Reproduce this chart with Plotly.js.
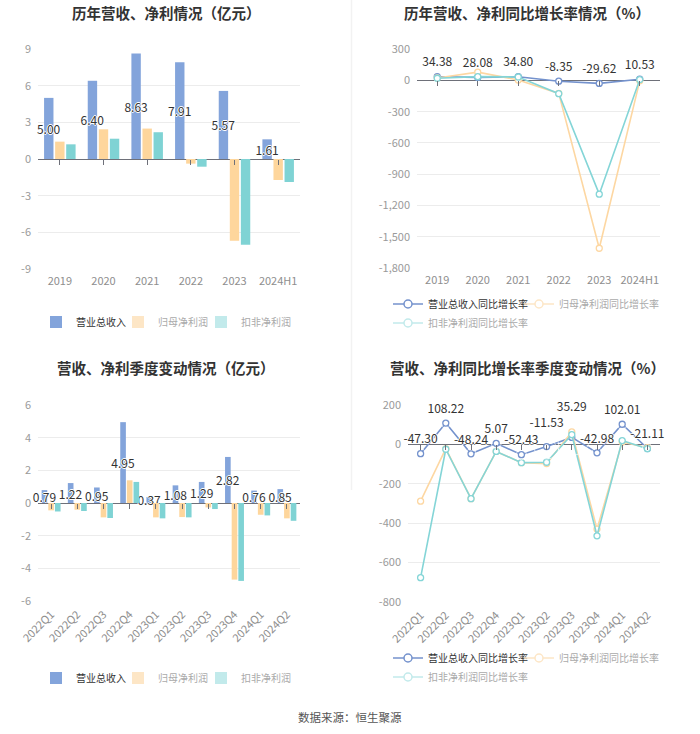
<!DOCTYPE html>
<html><head><meta charset="utf-8">
<script src="https://cdn.plot.ly/plotly-3.0.1.min.js"></script>
<style>html,body{margin:0;padding:0;background:#fff}#chart{width:700px;height:734px}</style>
</head><body><div id="chart"></div>
<script>
// ---------- data ----------
const years = ['2019','2020','2021','2022','2023','2024H1'];
const yearRevenue = [5.00, 6.40, 8.63, 7.91, 5.57, 1.61];
const yearNetProfit = [1.42, 2.43, 2.49, -0.38, -6.69, -1.72];
const yearDeductedProfit = [1.20, 1.66, 2.19, -0.63, -7.02, -1.88];

const yearRevenueGrowth = [34.38, 28.08, 34.80, -8.35, -29.62, 10.53];
const yearNetGrowth = [23, 78, 3, -125, -1608, -5];
const yearDeductedGrowth = [20, 35, 32, -128, -1090, 7];

const quarters = ['2022Q1','2022Q2','2022Q3','2022Q4','2023Q1','2023Q2','2023Q3','2023Q4','2024Q1','2024Q2'];
const qRevenue = [0.79, 1.22, 0.95, 4.95, 0.37, 1.08, 1.29, 2.82, 0.76, 0.85];
const qNetProfit = [-0.45, -0.41, -0.88, 1.39, -0.88, -0.86, -0.27, -4.69, -0.72, -0.94];
const qDeductedProfit = [-0.52, -0.49, -0.92, 1.29, -0.94, -0.88, -0.37, -4.77, -0.76, -1.09];

const qRevenueGrowth = [-47.30, 108.22, -48.24, 5.07, -52.43, -11.53, 35.29, -42.98, 102.01, -21.11];
const qNetGrowth = [-289, -22, -276, -36, -93, -98, 63, -431, 12, -17];
const qDeductedGrowth = [-678, -25, -276, -36, -93, -91, 49, -465, 19, -22];

const ticks1 = [-9, -6, -3, 0, 3, 6, 9];
const ticks2 = [-1800, -1500, -1200, -900, -600, -300, 0, 300];
const ticks2Text = ['-1,800', '-1,500', '-1,200', '-900', '-600', '-300', '0', '300'];
const ticks3 = [-6, -4, -2, 0, 2, 4, 6];
const ticks4 = [-800, -600, -400, -200, 0, 200];

const barNames = ['营业总收入', '归母净利润', '扣非净利润'];
const lineNames = ['营业总收入同比增长率', '归母净利润同比增长率', '扣非净利润同比增长率'];
const titles = ['历年营收、净利情况（亿元）', '历年营收、净利同比增长率情况（%）', '营收、净利季度变动情况（亿元）', '营收、净利同比增长率季度变动情况（%）'];
const sourceText = '数据来源：恒生聚源';

// ---------- style ----------
const FONT = '"Noto Sans CJK SC", "Noto Sans", sans-serif';
const W = 700, H = 734;
const C = {blue: '#83a4db', orange: '#fed69c', teal: '#7fd3d4',
           lblue: '#7492cd', lorange: '#fdd7a2', lteal: '#84d5d7',
           paleOrange: '#fde6c6', paleTeal: '#c2eaeb'};
const px = v => v / W, py = v => 1 - v / H;
const shadow = '1px 0 0 #fff, -1px 0 0 #fff, 0 1px 0 #fff, 0 -1px 0 #fff';
// label spacer sizes (style): larger spacer lifts a label that would collide with its neighbour
const yearLabelSpacer = 10;
const quarterLabelSpacer = [10, 10, 10, 10, 10, 25, 36, 10, 10, 10];

const panels = [
  {x: [38, 300], y: [269, 49], range: [-9, 9]},
  {x: [417, 660], y: [268.3, 49], range: [-1800, 300]},
  {x: [38, 300], y: [601, 405], range: [-6, 6]},
  {x: [408, 660], y: [601.7, 405], range: [-800, 200]}
];

function barTraces(cats, rev, net, ded, ax) {
  const common = {type: 'bar', x: cats, xaxis: 'x' + ax, yaxis: 'y' + ax, showlegend: false, hoverinfo: 'x+y', cliponaxis: false};
  return [
    Object.assign({}, common, {y: rev, marker: {color: C.blue}, text: rev.map(v => v.toFixed(2)),
      textposition: 'inside', insidetextanchor: 'middle', constraintext: 'none', textangle: 0,
      insidetextfont: {family: FONT, size: 12, color: '#333', shadow: shadow}}),
    Object.assign({}, common, {y: net, marker: {color: C.orange}}),
    Object.assign({}, common, {y: ded, marker: {color: C.teal}})
  ];
}
function lineTraces(cats, rev, net, ded, ax, spacer) {
  const mk = col => ({symbol: 'circle', size: 6, color: '#fff', line: {color: col, width: 1.3}});
  const common = {type: 'scatter', x: cats, xaxis: 'x' + ax, yaxis: 'y' + ax, showlegend: false, cliponaxis: false};
  return [
    Object.assign({}, common, {y: rev, mode: 'lines+markers', line: {color: C.lblue, width: 1.6}, marker: mk(C.lblue)}),
    Object.assign({}, common, {y: net, mode: 'lines+markers', line: {color: C.lorange, width: 1.6}, marker: mk(C.lorange)}),
    Object.assign({}, common, {y: ded, mode: 'lines+markers', line: {color: C.lteal, width: 1.6}, marker: mk(C.lteal)}),
    Object.assign({}, common, {y: rev, mode: 'markers+text', text: rev.map(v => v.toFixed(2)), textposition: 'top center',
      marker: {size: spacer, color: 'rgba(0,0,0,0)'},
      textfont: {family: FONT, size: 12, color: '#333', shadow: shadow}, hoverinfo: 'skip'})
  ];
}

const data = [].concat(
  barTraces(years, yearRevenue, yearNetProfit, yearDeductedProfit, ''),
  lineTraces(years, yearRevenueGrowth, yearNetGrowth, yearDeductedGrowth, '2', yearLabelSpacer),
  barTraces(quarters, qRevenue, qNetProfit, qDeductedProfit, '3'),
  lineTraces(quarters, qRevenueGrowth, qNetGrowth, qDeductedGrowth, '4', quarterLabelSpacer)
);

// ---------- legends (one entry per legend, on a hidden helper subplot) ----------
const legendSpecs = [
  {kind: 'bar', name: barNames[0], color: C.blue, font: '#333', x: 36, y: 322},
  {kind: 'bar', name: barNames[1], color: C.paleOrange, font: '#aaa', x: 118, y: 322},
  {kind: 'bar', name: barNames[2], color: C.paleTeal, font: '#aaa', x: 201, y: 322},
  {kind: 'line', name: lineNames[0], color: C.lblue, font: '#333', x: 388, y: 304},
  {kind: 'line', name: lineNames[1], color: C.paleOrange, font: '#aaa', x: 519, y: 304},
  {kind: 'line', name: lineNames[2], color: C.paleTeal, font: '#aaa', x: 388, y: 323},
  {kind: 'bar', name: barNames[0], color: C.blue, font: '#333', x: 36, y: 678},
  {kind: 'bar', name: barNames[1], color: C.paleOrange, font: '#aaa', x: 118, y: 678},
  {kind: 'bar', name: barNames[2], color: C.paleTeal, font: '#aaa', x: 201, y: 678},
  {kind: 'line', name: lineNames[0], color: C.lblue, font: '#333', x: 388, y: 658},
  {kind: 'line', name: lineNames[1], color: C.paleOrange, font: '#aaa', x: 519, y: 658},
  {kind: 'line', name: lineNames[2], color: C.paleTeal, font: '#aaa', x: 388, y: 677}
];

const layout = {
  width: W, height: H, margin: {l: 0, r: 0, t: 0, b: 0},
  paper_bgcolor: '#fff', plot_bgcolor: 'rgba(0,0,0,0)',
  barmode: 'group', bargap: 0.24, bargroupgap: 0.15,
  font: {family: FONT, color: '#999'},
  showlegend: true,
  annotations: [], shapes: []
};

legendSpecs.forEach((s, i) => {
  const key = i === 0 ? 'legend' : 'legend' + (i + 1);
  const t = {name: s.name, x: [0], y: [0], xaxis: 'x9', yaxis: 'y9', legend: key, showlegend: true, hoverinfo: 'skip'};
  if (s.kind === 'bar') { t.type = 'bar'; t.marker = {color: s.color}; }
  else { t.type = 'scatter'; t.mode = 'lines+markers'; t.y = [null];
         t.line = {color: s.color, width: 1.6};
         t.marker = {symbol: 'circle', size: 8, color: '#fff', line: {color: s.color, width: 1.5}}; }
  data.push(t);
  layout[key] = {x: px(s.x), y: py(s.y), xanchor: 'left', yanchor: 'middle', orientation: 'h',
    bgcolor: 'rgba(0,0,0,0)', borderwidth: 0, font: {family: FONT, size: 10, color: s.font},
    itemclick: false, itemdoubleclick: false};
});
layout.xaxis9 = {domain: [0, 0.001], visible: false, fixedrange: true};
layout.yaxis9 = {domain: [0, 0.001], visible: false, fixedrange: true, anchor: 'x9'};

// ---------- axes ----------
const catsList = [years, years, quarters, quarters];
const tickSets = [[ticks1, ticks1.map(String)], [ticks2, ticks2Text], [ticks3, ticks3.map(String)], [ticks4, ticks4.map(String)]];
panels.forEach((p, i) => {
  const sfx = i === 0 ? '' : String(i + 1);
  const n = catsList[i].length;
  const xd = [px(p.x[0]), px(p.x[1])];
  const yd = [py(p.y[0]), py(p.y[1])];
  layout['xaxis' + sfx] = {domain: xd, anchor: 'y' + sfx, type: 'category', range: [-0.5, n - 0.5],
    showgrid: false, zeroline: false, showline: false, ticks: '',
    tickfont: {family: FONT, size: 11, color: '#8e8e8e'}, ticklabelstandoff: 4,
    tickangle: i >= 2 ? -45 : 0, fixedrange: true};
  layout['yaxis' + sfx] = {domain: yd, anchor: 'x' + sfx, range: p.range,
    tickvals: tickSets[i][0], ticktext: tickSets[i][1],
    showgrid: true, gridcolor: '#ececec', gridwidth: 1,
    zeroline: true, zerolinecolor: '#6e7079', zerolinewidth: 1,
    showline: false, ticks: '', ticklabelstandoff: 6,
    tickfont: {family: FONT, size: 11, color: '#9a9a9a'}, fixedrange: true};
  const pos = yd[0] + (0 - p.range[0]) / (p.range[1] - p.range[0]) * (yd[1] - yd[0]);
  const tk = 'xaxis' + (5 + i);
  layout[tk] = {overlaying: 'x' + sfx, anchor: 'free', position: pos, side: 'bottom',
    range: [-0.5, n - 0.5], tickvals: catsList[i].map((c, k) => k), showticklabels: false,
    ticks: 'outside', ticklen: 5, tickcolor: '#6e7079', tickwidth: 1,
    showgrid: false, zeroline: false, showline: false, fixedrange: true};
  layout.annotations.push({text: '<b>' + titles[i] + '</b>', xref: 'paper', yref: 'paper',
    x: px(i % 2 === 0 ? 166 : 527), y: py(i < 2 ? 13 : 367), xanchor: 'center', yanchor: 'middle',
    showarrow: false, font: {family: FONT, size: 14.5, color: '#333'}});
});
for (let i = 0; i < 4; i++) {
  data.push({type: 'scatter', x: [], y: [], xaxis: 'x' + (5 + i), yaxis: i === 0 ? 'y' : 'y' + (i + 1), showlegend: false, hoverinfo: 'skip'});
}

layout.annotations.push({text: sourceText, xref: 'paper', yref: 'paper', x: 0.5, y: py(717),
  xanchor: 'center', yanchor: 'middle', showarrow: false, font: {family: FONT, size: 11.5, color: '#555'}});
layout.shapes.push({type: 'line', xref: 'paper', yref: 'paper', x0: px(351.5), x1: px(351.5), y0: 1, y1: py(490),
  line: {color: '#f2f2f2', width: 1.5}});

Plotly.newPlot('chart', data, layout, {displayModeBar: false, staticPlot: true});
</script>
</body></html>
